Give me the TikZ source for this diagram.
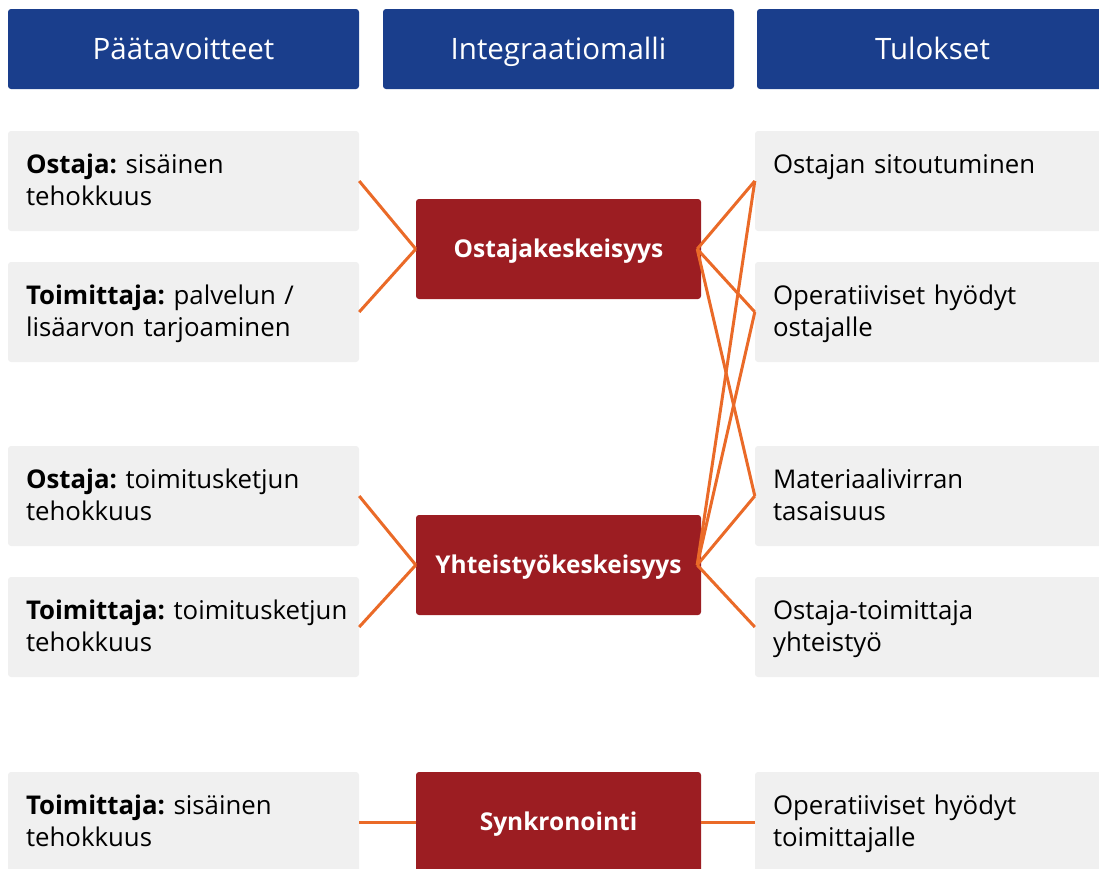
\documentclass[tikz,border=0pt]{standalone}
\usepackage{fontspec}
\setmainfont{Open Sans}
\usetikzlibrary{positioning}
\frenchspacing

\definecolor{headblue}{HTML}{1A3E8C}
\definecolor{boxgray}{HTML}{F0F0F0}
\definecolor{boxred}{HTML}{9C1D22}
\definecolor{linkorange}{HTML}{EA6A28}

\begin{document}
\begin{tikzpicture}[x=1pt,y=-1pt,
  head/.style={fill=headblue,rounded corners=3pt,minimum width=351pt,minimum height=80pt,inner sep=0pt,text=white,text height=21pt,text depth=0pt,font=\fontsize{29.5}{34}\selectfont},
  goal/.style={fill=boxgray,rounded corners=3pt,minimum width=351pt,minimum height=100pt,inner sep=0pt},
  model/.style={fill=boxred,rounded corners=3pt,minimum width=285pt,minimum height=100pt,inner sep=0pt,text=white,text height=17.5pt,text depth=0pt,font=\bfseries\fontsize{24.5}{28}\selectfont},
  txt/.style={anchor=base west,text width=340pt,align=left,inner sep=0pt,font=\fontsize{25.8}{31.5}\selectfont},
  link/.style={linkorange,line width=3pt}]
\useasboundingbox (0,0) rectangle (1099,868);
\clip (0,0) rectangle (1099,868);

% otsikot
\node[head] (h1) at (183.5,49) {Päätavoitteet};
\node[head] (h2) at (558.5,49) {Integraatiomalli};
\node[head] (h3) at (932.5,49) {Tulokset};

% paatavoitteet
\node[goal] (g1) at (183.5,181) {};
\node[goal] (g2) at (183.5,312) {};
\node[goal] (g3) at (183.5,496) {};
\node[goal] (g4) at (183.5,627) {};
\node[goal] (g5) at (183.5,822) {};

% tulokset
\node[goal] (r1) at (930.5,181) {};
\node[goal] (r2) at (930.5,312) {};
\node[goal] (r3) at (930.5,496) {};
\node[goal] (r4) at (930.5,627) {};
\node[goal] (r5) at (930.5,822) {};

% integraatiomallit
\node[model] (ok) at (558.5,249) {Ostajakeskeisyys};
\node[model] (yk) at (558.5,565) {Yhteistyökeskeisyys};
\node[model] (sk) at (558.5,822) {Synkronointi};

% tekstit
\node[txt] (tg1) at ([xshift=18pt,yshift=-43pt]g1.north west) {\textbf{Ostaja:} sisäinen\\tehokkuus};
\node[txt] (tg2) at ([xshift=18pt,yshift=-43pt]g2.north west) {\textbf{Toimittaja:} palvelun /\\lisäarvon tarjoaminen};
\node[txt] (tg3) at ([xshift=18pt,yshift=-43pt]g3.north west) {\textbf{Ostaja:} toimitusketjun\\tehokkuus};
\node[txt] (tg4) at ([xshift=18pt,yshift=-43pt]g4.north west) {\textbf{Toimittaja:} toimitusketjun\\tehokkuus};
\node[txt] (tg5) at ([xshift=18pt,yshift=-43pt]g5.north west) {\textbf{Toimittaja:} sisäinen\\tehokkuus};
\node[txt] (tr1) at ([xshift=18pt,yshift=-43pt]r1.north west) {Ostajan sitoutuminen};
\node[txt] (tr2) at ([xshift=18pt,yshift=-43pt]r2.north west) {Operatiiviset hyödyt\\ostajalle};
\node[txt] (tr3) at ([xshift=18pt,yshift=-43pt]r3.north west) {Materiaalivirran\\tasaisuus};
\node[txt] (tr4) at ([xshift=18pt,yshift=-43pt]r4.north west) {Ostaja-toimittaja\\yhteistyö};
\node[txt] (tr5) at ([xshift=18pt,yshift=-43pt]r5.north west) {Operatiiviset hyödyt\\toimittajalle};

% yhteydet
\draw[link] (g1.east) -- (ok.west);
\draw[link] (g2.east) -- (ok.west);
\draw[link] (g3.east) -- (yk.west);
\draw[link] (g4.east) -- (yk.west);
\draw[link] (g5.east) -- (sk.west);
\coordinate (okr) at ([xshift=-4pt]ok.east);
\coordinate (ykr) at ([xshift=-4pt]yk.east);
\draw[link] (okr) -- (r1.west);
\draw[link] (okr) -- (r2.west);
\draw[link] (okr) -- (r3.west);
\draw[link] (ykr) -- (r1.west);
\draw[link] (ykr) -- (r2.west);
\draw[link] (ykr) -- (r3.west);
\draw[link] (ykr) -- (r4.west);
\draw[link] (sk.east) -- (r5.west);
\end{tikzpicture}
\end{document}
